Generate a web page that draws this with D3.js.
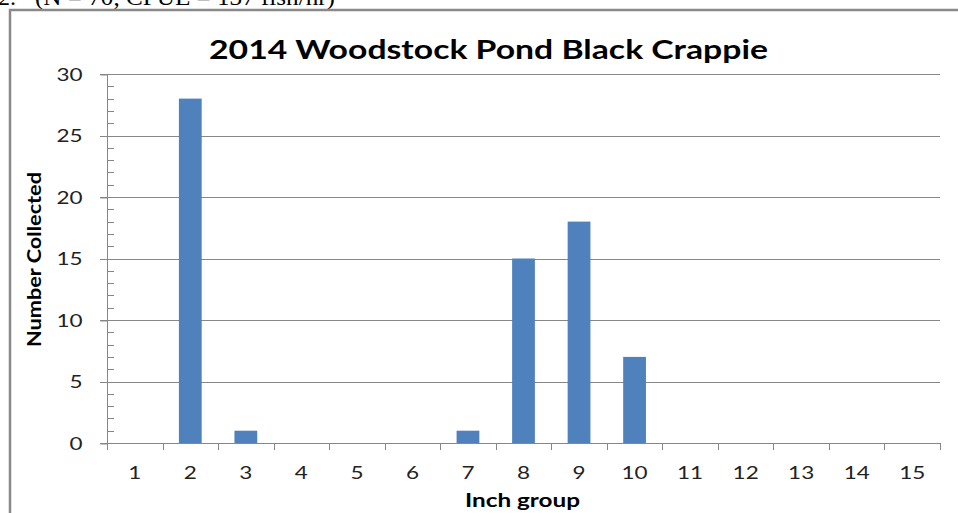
<!DOCTYPE html>
<html>
<head>
<meta charset="utf-8">
<script src="https://cdn.jsdelivr.net/npm/d3@7/dist/d3.min.js"></script>
<style>
  html, body { margin: 0; padding: 0; background: #fff; overflow: hidden; }
  svg { display: block; }
</style>
</head>
<body>
<svg id="chart" width="958" height="513"></svg>
<script>
// Length-frequency data: number of fish collected per inch group
const inchGroups = ["1","2","3","4","5","6","7","8","9","10","11","12","13","14","15"];
const numberCollected = [0, 28, 1, 0, 0, 0, 1, 15, 18, 7, 0, 0, 0, 0, 0];
const yTicks = [0, 5, 10, 15, 20, 25, 30];
const chartTitle = "2014 Woodstock Pond Black Crappie";
const xTitle = "Inch group";
const yTitle = "Number Collected";
const captionPrefix = "2.";
const captionText = "(N = 70, CPUE = 137 fish/hr)";

const svg = d3.select("#chart");
const font = "Lato, 'Open Sans', sans-serif";
const gridColor = "#878787";
const barColor = "#4F81BD";
const stretch = 1.25; // horizontal widening of the label glyphs

// Caption line above the chart (runs off the top edge of the page)
const serif = "'Liberation Serif', 'Times New Roman', serif";
svg.append("text")
  .attr("x", -2).attr("y", 5)
  .attr("font-family", serif).attr("font-size", 24).attr("fill", "#000")
  .text(captionPrefix);
svg.append("text")
  .attr("x", 35).attr("y", 5)
  .attr("font-family", serif).attr("font-size", 24).attr("fill", "#000")
  .attr("textLength", 300).attr("lengthAdjust", "spacingAndGlyphs")
  .text(captionText);

// Chart frame
svg.append("rect")
  .attr("x", 10).attr("y", 10)
  .attr("width", 980).attr("height", 540)
  .attr("fill", "#fff")
  .attr("stroke", "#898989")
  .attr("stroke-width", 2.5);

const plotLeft = 107, plotRight = 940, plotTop = 74, plotBottom = 443;

const x = d3.scaleBand().domain(inchGroups).range([plotLeft, plotRight]).paddingInner(0.59).paddingOuter(0.295);
const xPos = d3.scaleBand().domain(inchGroups).range([plotLeft, plotRight]);
const y = d3.scaleLinear().domain([0, 30]).range([plotBottom, plotTop]);

// Horizontal gridlines
svg.append("g")
  .selectAll("line")
  .data(yTicks.filter(d => d > 0))
  .join("line")
  .attr("x1", plotLeft - 7).attr("x2", plotRight)
  .attr("y1", d => Math.round(y(d)) + 0.5).attr("y2", d => Math.round(y(d)) + 0.5)
  .attr("stroke", gridColor).attr("stroke-width", 1);

// Minor ticks on the value axis (every unit)
svg.append("g")
  .selectAll("line")
  .data(d3.range(1, 30).filter(d => d % 5 !== 0))
  .join("line")
  .attr("x1", plotLeft).attr("x2", plotLeft + 7)
  .attr("y1", d => Math.round(y(d)) + 0.5).attr("y2", d => Math.round(y(d)) + 0.5)
  .attr("stroke", gridColor).attr("stroke-width", 1);

// Bars
svg.append("g")
  .selectAll("rect")
  .data(inchGroups.map((g, i) => ({ g, v: numberCollected[i] })))
  .join("rect")
  .attr("x", d => x(d.g))
  .attr("width", x.bandwidth())
  .attr("y", d => y(d.v))
  .attr("height", d => y(0) - y(d.v))
  .attr("fill", barColor);

// Y axis
const yAxis = d3.axisLeft(y).tickValues(yTicks).tickSize(7).tickPadding(18);
const gy = svg.append("g").attr("transform", `translate(${plotLeft + 0.5},0.5)`).call(yAxis);
gy.select(".domain").attr("stroke", gridColor).attr("d", `M0,${y(30)}V${y(0)}`);
gy.selectAll(".tick line").attr("stroke", gridColor);
gy.selectAll(".tick text")
  .attr("font-family", font).attr("font-size", 18).attr("fill", "#222")
  .attr("x", -25 / stretch)
  .attr("transform", `scale(${stretch},1)`);

// X axis
const xAxis = d3.axisBottom(xPos).tickSize(0).tickPadding(23);
const gx = svg.append("g").attr("transform", `translate(0,${plotBottom + 0.5})`).call(xAxis);
gx.select(".domain").attr("stroke", gridColor).attr("d", `M${plotLeft - 7},0H${plotRight}`);
gx.selectAll(".tick text")
  .attr("font-family", font).attr("font-size", 18).attr("fill", "#222")
  .attr("transform", `scale(${stretch},1)`);
// Category boundary ticks
svg.append("g")
  .selectAll("line")
  .data(d3.range(inchGroups.length + 1))
  .join("line")
  .attr("x1", i => Math.round(plotLeft + i * xPos.step()) + 0.5)
  .attr("x2", i => Math.round(plotLeft + i * xPos.step()) + 0.5)
  .attr("y1", plotBottom).attr("y2", plotBottom + 7)
  .attr("stroke", gridColor);

// Titles
svg.append("text")
  .attr("x", 209).attr("y", 59)
  .attr("font-family", font).attr("font-weight", "bold").attr("font-size", 26)
  .attr("fill", "#000")
  .attr("textLength", 559).attr("lengthAdjust", "spacingAndGlyphs")
  .text(chartTitle);

svg.append("text")
  .attr("x", 465).attr("y", 507)
  .attr("font-family", font).attr("font-weight", "bold").attr("font-size", 18)
  .attr("fill", "#000")
  .attr("textLength", 115).attr("lengthAdjust", "spacingAndGlyphs")
  .text(xTitle);

svg.append("text")
  .attr("transform", "translate(41,347) rotate(-90)")
  .attr("font-family", font).attr("font-weight", "bold").attr("font-size", 18)
  .attr("fill", "#000")
  .attr("textLength", 175).attr("lengthAdjust", "spacingAndGlyphs")
  .text(yTitle);
</script>
</body>
</html>
